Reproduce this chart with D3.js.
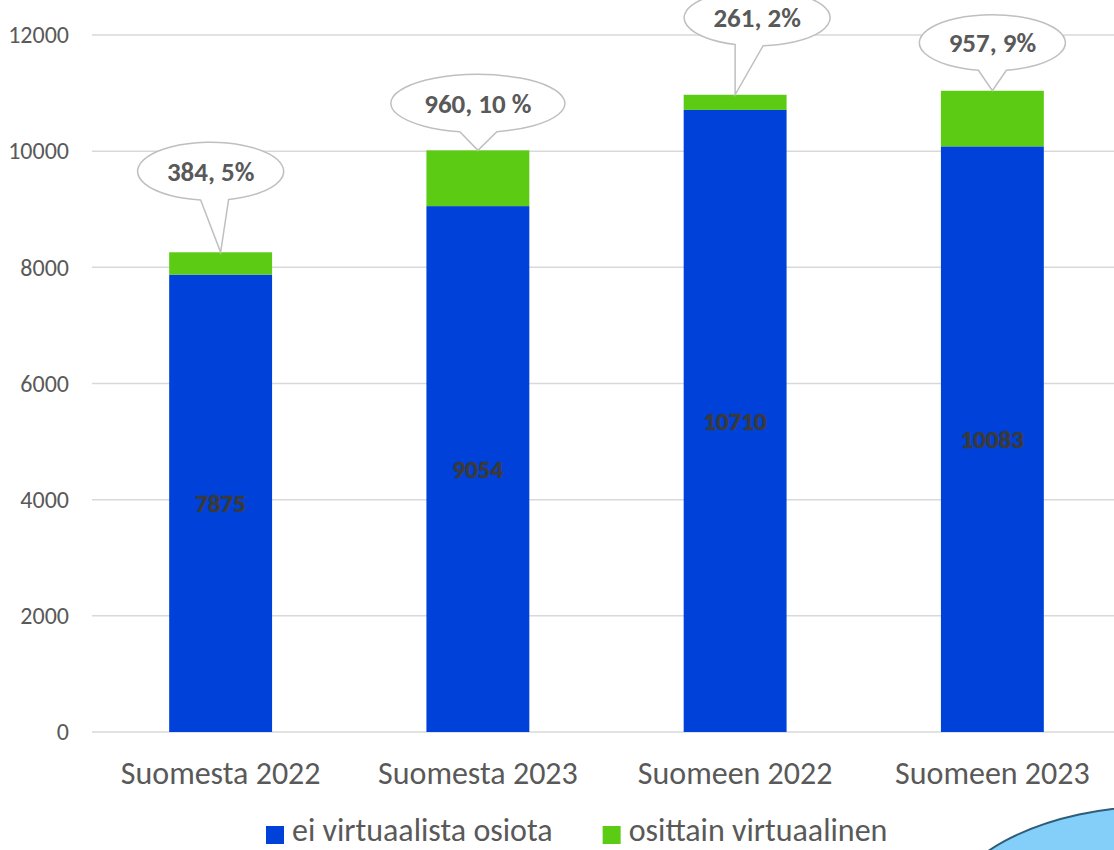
<!DOCTYPE html>
<html>
<head>
<meta charset="utf-8">
<script src="https://cdn.jsdelivr.net/npm/d3@7"></script>
<style>
  body { margin: 0; background: #fff; }
  svg { display: block; font-family: Carlito, Calibri, Lato, sans-serif; }
</style>
</head>
<body>
<svg id="chart" width="1114" height="850"></svg>
<script>
// data
var categories = ["Suomesta 2022", "Suomesta 2023", "Suomeen 2022", "Suomeen 2023"];
var eiVirtuaalista = [7875, 9054, 10710, 10083];
var osittainVirtuaalinen = [384, 960, 261, 957];
var calloutLabels = ["384, 5%", "960, 10 %", "261, 2%", "957, 9%"];
var seriesNames = ["ei virtuaalista osiota", "osittain virtuaalinen"];
var yTicks = [0, 2000, 4000, 6000, 8000, 10000, 12000];

var colors = ["#0041d9", "#5ccb14"];
var textColor = "#595959";
var fontFamily = "Carlito, Calibri, Lato, sans-serif";

// callout bubble placement relative to the top of each bar
var bubbles = [
  { dx: -10, dy: -81, rx: 73, ry: 29, l: -10, r: 18 },
  { dx: 0, dy: -47, rx: 87, ry: 29, l: -18, r: 19 },
  { dx: 22, dy: -77, rx: 73, ry: 28, l: -22, r: 6 },
  { dx: 0, dy: -48, rx: 73, ry: 28, l: -14, r: 14 }
];

var svg = d3.select("#chart");

// decorative shape at the bottom right corner
svg.append("ellipse")
  .attr("cx", 1160).attr("cy", 926)
  .attr("rx", 220).attr("ry", 120)
  .attr("fill", "#84cff9")
  .attr("stroke", "#2e5d78")
  .attr("stroke-width", 2);

var x = d3.scaleBand()
  .domain(categories)
  .range([92, 1121])
  .paddingInner(0.6)
  .paddingOuter(0.3);

var y = d3.scaleLinear()
  .domain([0, 12000])
  .range([732, 35]);

// gridlines
svg.append("g")
  .selectAll("line")
  .data(yTicks)
  .enter()
  .append("line")
  .attr("x1", 92)
  .attr("x2", 1114)
  .attr("y1", (d) => y(d))
  .attr("y2", (d) => y(d))
  .attr("stroke", "#d9d9d9")
  .attr("stroke-width", 1.5);

// y axis labels
var yAxis = svg.append("g")
  .attr("transform", "translate(69,0)")
  .call(d3.axisLeft(y).tickValues(yTicks).tickSize(0).tickPadding(0).tickFormat(d3.format("d")))
  .attr("font-family", fontFamily)
  .attr("font-size", 24);
yAxis.select(".domain").remove();
yAxis.selectAll("text").attr("fill", textColor);

// x axis labels
var xAxis = svg.append("g")
  .attr("transform", "translate(0,732)")
  .call(d3.axisBottom(x).tickSize(0).tickPadding(0))
  .attr("font-family", fontFamily)
  .attr("font-size", 32);
xAxis.select(".domain").remove();
xAxis.selectAll("text")
  .attr("y", 0)
  .attr("dy", 52)
  .attr("fill", textColor);

// stacked bars
var stackData = categories.map((c, i) => ({
  cat: c,
  a: eiVirtuaalista[i],
  b: osittainVirtuaalinen[i]
}));
var stacked = d3.stack().keys(["a", "b"])(stackData);

svg.append("g")
  .selectAll("g")
  .data(stacked)
  .enter()
  .append("g")
  .attr("fill", (d, i) => colors[i])
  .selectAll("rect")
  .data((d) => d)
  .enter()
  .append("rect")
  .attr("x", (d) => x(d.data.cat))
  .attr("y", (d) => y(d[1]))
  .attr("width", x.bandwidth())
  .attr("height", (d) => y(d[0]) - y(d[1]));

// value labels inside blue bars
svg.append("g")
  .selectAll("text")
  .data(stackData)
  .enter()
  .append("text")
  .attr("x", (d) => x(d.cat) + x.bandwidth() / 2)
  .attr("y", (d) => (y(0) + y(d.a)) / 2)
  .attr("dy", "0.35em")
  .attr("text-anchor", "middle")
  .attr("fill", "#3a3a3a")
  .attr("stroke", "#3a3a3a")
  .attr("stroke-width", 0.6)
  .style("font-size", "25px")
  .style("font-weight", "bold")
  .text((d) => d.a);

// callout bubbles for the green segments
var callouts = svg.append("g");
stackData.forEach(function (d, i) {
  var b = bubbles[i];
  var tipX = x(d.cat) + x.bandwidth() / 2;
  var tipY = y(d.a + d.b);
  var cx = tipX + b.dx, cy = tipY + b.dy;
  var lx = cx + b.l, rx = cx + b.r;
  var ly = cy + b.ry * Math.sqrt(1 - (b.l / b.rx) * (b.l / b.rx));
  var ry = cy + b.ry * Math.sqrt(1 - (b.r / b.rx) * (b.r / b.rx));
  var path = "M" + lx + "," + ly +
    "L" + tipX + "," + tipY +
    "L" + rx + "," + ry +
    "A" + b.rx + "," + b.ry + " 0 1 0 " + lx + "," + ly + "Z";
  callouts.append("path")
    .attr("d", path)
    .attr("fill", "#fff")
    .attr("stroke", "#bfbfbf")
    .attr("stroke-width", 1.5);
  callouts.append("text")
    .attr("x", cx)
    .attr("y", cy)
    .attr("dy", "0.35em")
    .attr("text-anchor", "middle")
    .attr("fill", textColor)
    .style("font-size", "27px")
    .style("font-weight", "bold")
    .text(calloutLabels[i]);
});

// legend
var legend = svg.append("g").attr("transform", "translate(266,830)");
var lx = 0;
seriesNames.forEach(function (name, i) {
  var item = legend.append("g").attr("transform", "translate(" + lx + ",0)");
  item.append("rect")
    .attr("x", 0).attr("y", -4)
    .attr("width", 18).attr("height", 18)
    .attr("fill", colors[i]);
  var t = item.append("text")
    .attr("x", 26)
    .attr("dy", "0.35em")
    .attr("fill", textColor)
    .style("font-size", "32px")
    .text(name);
  lx += 26 + t.node().getComputedTextLength() + 50;
});
</script>
</body>
</html>
